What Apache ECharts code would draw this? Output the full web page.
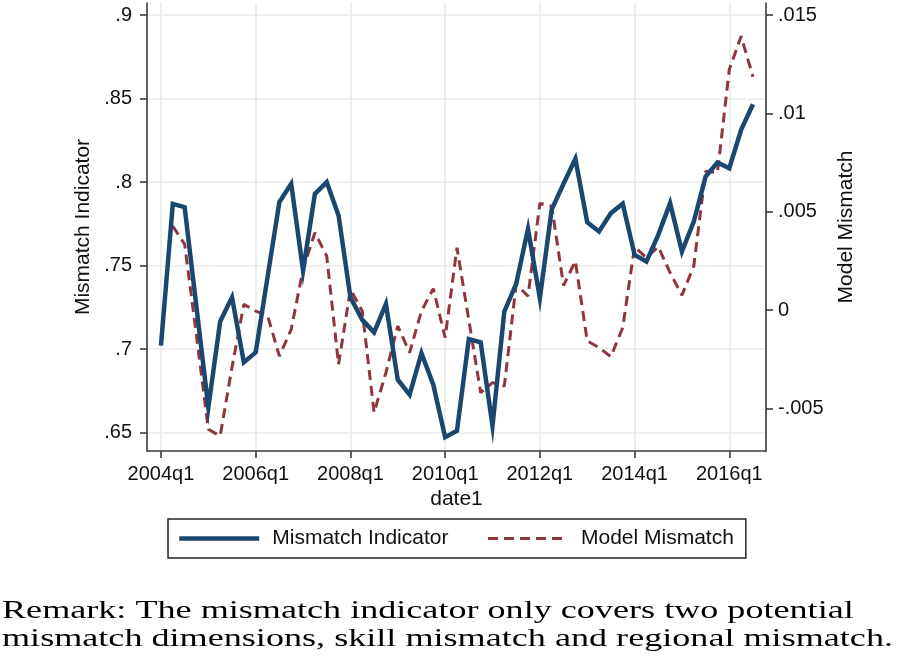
<!DOCTYPE html>
<html>
<head>
<meta charset="utf-8">
<script src="https://cdn.jsdelivr.net/npm/echarts@6/dist/echarts.min.js"></script>
<style>
html,body{margin:0;padding:0;background:#fff;}
#chart{width:898px;height:662px;}
</style>
</head>
<body>
<div id="chart"></div>
<script>
// Quarter index 0 = 2004q1 ... 50 = 2016q3
var startYear = 2004;
var nQuarters = 51;
var quarters = [];
for (var q = 0; q < nQuarters; q++) {
  quarters.push((startYear + Math.floor(q / 4)) + 'q' + (q % 4 + 1));
}
var xTickIdx = [0, 8, 16, 24, 32, 40, 48];

var mismatchIndicator = [
  0.702, 0.787, 0.785, 0.725, 0.665, 0.7165, 0.731, 0.692, 0.698, 0.743,
  0.788, 0.799, 0.747, 0.793, 0.800, 0.780, 0.731, 0.7175, 0.710, 0.727,
  0.6816, 0.6726, 0.6975, 0.6786, 0.6472, 0.651, 0.706, 0.704, 0.654, 0.7225,
  0.739, 0.772, 0.7305, 0.7835, 0.799, 0.814, 0.776, 0.7704, 0.7814, 0.787,
  0.7564, 0.7524, 0.7684, 0.7874, 0.7584, 0.7763, 0.8033, 0.8117, 0.8083, 0.8313,
  0.8466
];
var modelMismatch = [
  null, 0.00427, 0.00334, -0.0013, -0.00606, -0.0064, -0.0029, 0.00029, -0.00005, -0.00027,
  -0.00234, -0.00098, 0.00207, 0.00393, 0.00274, -0.00276, 0.00105, -0.00005, -0.00521, -0.00318,
  -0.00081, -0.00216, -0.00005, 0.00109, -0.0014, 0.00317, -0.0005, -0.0042, -0.00369, -0.00386,
  0.0013, 0.00071, 0.00542, 0.00528, 0.00125, 0.00249, -0.00157, -0.00191, -0.00237, -0.00089,
  0.00322, 0.00266, 0.00322, 0.0019, 0.00075, 0.00224, 0.00706, 0.00698, 0.01223, 0.01392,
  0.01186
];
var leftTicks = [0.65, 0.7, 0.75, 0.8, 0.85, 0.9];
var rightTicks = [-0.005, 0, 0.005, 0.01, 0.015];
var remarkLines = [
  'Remark: The mismatch indicator only covers two potential',
  'mismatch dimensions, skill mismatch and regional mismatch.'
];

function stataNum(v) {
  var s = String(Math.round(v * 100000) / 100000);
  if (s === '0') return '0';
  return s.replace(/^(-?)0\./, '$1.');
}

var blueData = mismatchIndicator.map(function (v, i) { return [i, v]; });
var redData = modelMismatch.map(function (v, i) { return [i, v]; });

var SANS = '"Liberation Sans", Arial, Helvetica, sans-serif';
var SERIF_FONT = '24.5px "Liberation Serif", "Times New Roman", serif';
var axisColor = '#3a3a3a';
var gridColor = '#eaeaea';
var blue = '#1a476f';
var red = '#90353b';

// horizontal stretch of the remark so it spans the page width like the reference
var mctx = document.createElement('canvas').getContext('2d');
mctx.font = SERIF_FONT;
var remarkScale = 891 / mctx.measureText(remarkLines[1]).width;

var chart = echarts.init(document.getElementById('chart'), null, {renderer: 'canvas'});
chart.setOption({
  backgroundColor: '#ffffff',
  animation: false,
  grid: {left: 147, right: 132, top: 3, bottom: 211, containLabel: false},
  xAxis: {
    type: 'value',
    min: -1.18,
    max: 51.1,
    name: 'date1',
    nameLocation: 'middle',
    nameGap: 38,
    nameTextStyle: {fontFamily: SANS, fontSize: 21, color: '#111'},
    axisLine: {show: true, onZero: false, lineStyle: {color: axisColor, width: 1.6}},
    axisTick: {show: true, length: 7, lineStyle: {color: axisColor, width: 1.6}, customValues: xTickIdx},
    axisLabel: {show: true, margin: 13, fontFamily: SANS, fontSize: 20, color: '#111',
      customValues: xTickIdx,
      formatter: function (v) { return quarters[Math.round(v)]; }},
    splitLine: {show: true, lineStyle: {color: gridColor, width: 1.6}}
  },
  yAxis: [
    {
      type: 'value',
      position: 'left',
      min: 0.6389,
      max: 0.9073,
      name: 'Mismatch Indicator',
      nameLocation: 'middle',
      nameGap: 47,
      nameTextStyle: {fontFamily: SANS, fontSize: 21, color: '#111'},
      axisLine: {show: true, onZero: false, lineStyle: {color: axisColor, width: 1.6}},
      axisTick: {show: true, length: 7, lineStyle: {color: axisColor, width: 1.6}, customValues: leftTicks},
      axisLabel: {show: true, margin: 15, fontFamily: SANS, fontSize: 20, color: '#111',
        customValues: leftTicks, formatter: stataNum},
      splitLine: {show: true, lineStyle: {color: gridColor, width: 1.6}}
    },
    {
      type: 'value',
      position: 'right',
      min: -0.007165,
      max: 0.01561,
      name: 'Model Mismatch',
      nameLocation: 'middle',
      nameGap: 70,
      nameTextStyle: {fontFamily: SANS, fontSize: 21, color: '#111'},
      axisLine: {show: true, onZero: false, lineStyle: {color: axisColor, width: 1.6}},
      axisTick: {show: true, length: 7, lineStyle: {color: axisColor, width: 1.6}, customValues: rightTicks},
      axisLabel: {show: true, margin: 12, fontFamily: SANS, fontSize: 20, color: '#111',
        customValues: rightTicks, formatter: stataNum},
      splitLine: {show: false}
    }
  ],
  legend: {
    left: 168,
    top: 519,
    orient: 'horizontal',
    itemWidth: 80,
    itemHeight: 14,
    itemGap: 38,
    padding: [9, 12, 9, 9],
    borderColor: '#222',
    borderWidth: 1.5,
    textStyle: {fontFamily: SANS, fontSize: 21, color: '#111', padding: [0, 0, 0, 8]},
    data: [
      {name: 'Mismatch Indicator', itemStyle: {opacity: 0},
        lineStyle: {color: blue, width: 4.5, type: 'solid'}},
      {name: 'Model Mismatch', itemStyle: {opacity: 0},
        lineStyle: {color: red, width: 3, type: [10, 6]}}
    ]
  },
  series: [
    {
      name: 'Mismatch Indicator',
      type: 'line',
      yAxisIndex: 0,
      data: blueData,
      symbol: 'none',
      connectNulls: false,
      lineStyle: {color: blue, width: 4.5, join: 'miter'},
      itemStyle: {color: blue},
      z: 3
    },
    {
      name: 'Model Mismatch',
      type: 'line',
      yAxisIndex: 1,
      data: redData,
      symbol: 'none',
      lineStyle: {color: red, width: 3, type: [10, 6]},
      itemStyle: {color: red},
      z: 2
    }
  ],
  graphic: remarkLines.map(function (t, k) {
    return {
      type: 'text',
      x: 2,
      y: 612 + k * 28,
      scaleX: remarkScale,
      style: {text: t, font: SERIF_FONT, fill: '#000', verticalAlign: 'middle', align: 'left'}
    };
  })
});
</script>
</body>
</html>
